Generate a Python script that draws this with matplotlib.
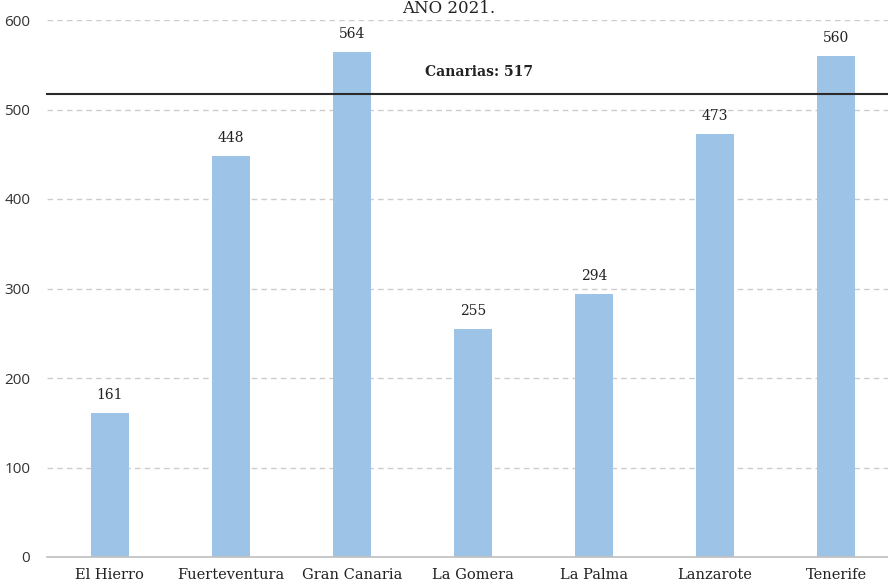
import matplotlib
matplotlib.use("Agg")
from matplotlib import pyplot as plt

islands = ["El Hierro", "Fuerteventura", "Gran Canaria", "La Gomera",
           "La Palma", "Lanzarote", "Tenerife"]
values = [161, 448, 564, 255, 294, 473, 560]
canarias = 517
y_ticks = [0, 100, 200, 300, 400, 500, 600]

BAR_COLOR = "#9dc3e6"
SERIF = "DejaVu Serif"
SANS = "Open Sans"

fig = plt.figure(figsize=(8.88, 5.85), dpi=100)
ax = fig.add_axes([47 / 888, 1 - 557 / 585, 1 - 47 / 888, (557 - 20) / 585])

x = list(range(len(islands)))
ax.bar(x, values, width=0.31, color=BAR_COLOR, zorder=2)

for xi, v in zip(x, values):
    ax.text(xi, v + 12, str(v), ha="center", va="bottom",
            fontsize=10, family=SERIF, color="#222222")

# regional average line
ax.axhline(canarias, color="#2a2a2a", linewidth=1.5, zorder=3, clip_on=False)
ax.text(3.05, canarias + 17, "Canarias: " + str(canarias), ha="center",
        va="bottom", fontsize=10, family=SERIF, fontweight="semibold",
        color="#222222")

ax.set_xlim(-0.52, 6.43)
ax.set_ylim(0, 600)
ax.set_yticks(y_ticks)
ax.set_yticklabels([str(t) for t in y_ticks], family=SANS, fontsize=11,
                   color="#333333")
ax.set_xticks(x)
ax.set_xticklabels(islands, family=SERIF, fontsize=10.5, color="#222222")
ax.tick_params(length=0, pad=8)
ax.tick_params(axis="y", pad=12)

ax.yaxis.grid(True, linestyle=(0, (4, 3)), color="#cccccc", linewidth=1)
ax.set_axisbelow(True)
for side in ["top", "right", "left"]:
    ax.spines[side].set_visible(False)
ax.spines["bottom"].set_color("#bfbfbf")
ax.spines["bottom"].set_linewidth(1.2)
ax.spines["bottom"].set_zorder(3)

fig.text(0.505, 1 - 13 / 585, "AÑO 2021.", ha="center", va="baseline",
         fontsize=12, family=SERIF, color="#222222")

fig.savefig("out.png", dpi=100)
